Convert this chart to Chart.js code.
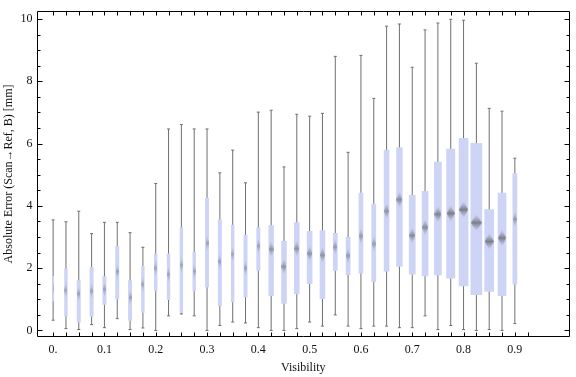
<!DOCTYPE html>
<html><head><meta charset="utf-8">
<script src="https://cdn.jsdelivr.net/npm/chart.js@4/dist/chart.umd.min.js"></script>
<style>html,body{margin:0;padding:0;background:#fff}#wrap{width:576px;height:377px;position:relative}</style>
</head><body><div id="wrap"><canvas id="c" width="576" height="377"></canvas></div>
<script>
// ---- data ----
const visibility = [0.000,0.025,0.050,0.075,0.100,0.125,0.150,0.175,0.200,0.225,0.250,0.275,0.300,0.325,0.350,0.375,0.400,0.425,0.450,0.475,0.500,0.525,0.550,0.575,0.600,0.625,0.650,0.675,0.700,0.725,0.750,0.775,0.800,0.825,0.850,0.875,0.900];
const whiskerLow  = [0.33,0.06,0.03,0.19,0.09,0.38,0.03,0.08,0.00,0.47,0.53,0.47,0.00,0.16,0.27,0.24,0.09,0.00,0.00,0.06,0.27,0.14,0.50,0.14,0.06,0.14,0.14,0.09,0.09,0.47,0.03,0.16,0.03,0.00,0.03,0.00,0.22];
const quartile1   = [0.95,0.46,0.27,0.45,0.84,1.01,0.32,0.58,1.27,0.99,0.57,1.27,1.40,0.80,0.92,1.08,1.93,1.12,0.87,1.18,1.50,1.02,1.93,1.79,1.84,1.56,1.90,2.06,1.81,1.75,1.78,1.68,1.43,1.15,1.25,1.12,1.49];
const medianVal   = [1.35,1.29,1.18,1.27,1.32,1.89,1.06,1.48,2.00,1.80,2.10,1.90,2.80,2.21,2.45,2.00,2.71,2.61,2.05,2.63,2.47,2.42,2.68,2.40,3.03,2.78,3.83,4.20,3.05,3.31,3.73,3.76,3.88,3.46,2.86,2.97,3.57];
const quartile3   = [1.74,1.98,1.60,2.03,1.73,2.70,1.60,2.06,2.46,2.46,3.30,2.52,4.25,3.55,3.38,3.06,3.30,3.37,2.86,3.46,3.18,3.21,3.12,2.99,4.41,4.06,5.79,5.87,4.34,4.47,5.41,5.82,6.17,6.01,3.88,4.41,5.04];
const whiskerHigh = [3.55,3.49,3.83,3.11,3.47,3.47,3.14,2.67,4.72,6.47,6.61,6.47,6.47,5.06,5.79,4.74,7.01,7.07,5.25,6.94,6.88,6.97,8.80,5.72,8.83,7.45,9.77,9.84,8.45,9.65,9.87,9.99,9.96,8.58,7.13,7.04,5.53];
// relative sample weight of each group (sets the box width)
const relWeight   = [0.10,0.25,0.30,0.30,0.30,0.30,0.30,0.25,0.25,0.25,0.25,0.25,0.30,0.30,0.25,0.30,0.30,0.43,0.45,0.45,0.45,0.45,0.37,0.37,0.37,0.37,0.45,0.52,0.55,0.55,0.64,0.75,0.82,1.00,0.82,0.73,0.37];

const xTickValues = [0,0.1,0.2,0.3,0.4,0.5,0.6,0.7,0.8,0.9];
const xTickLabels = ["0.","0.1","0.2","0.3","0.4","0.5","0.6","0.7","0.8","0.9"];
const xMarkValues = visibility.concat([0.925]);
const yTickValues = [0,2,4,6,8,10];
const yTickLabels = ["0","2","4","6","8","10"];
const yMinorValues = [0.5,1,1.5,2.5,3,3.5,4.5,5,5.5,6.5,7,7.5,8.5,9,9.5];

// ---- styles ----
const BOX_MAX_W = 11;
const boxColor = 'rgb(205,212,246)';
const whiskerColor = '#6f6f6f';
const serif = "'Liberation Serif','Times New Roman',serif";

function diamond(w, h) {
  const c = document.createElement('canvas');
  const cw = Math.max(1, Math.round(w));
  c.width = cw; c.height = h;
  const g = c.getContext('2d');
  const gr = g.createLinearGradient(0, 0, 0, h);
  const a = Math.min(0.85, 0.3 + w * 0.07);
  gr.addColorStop(0, 'rgba(140,142,160,0)');
  gr.addColorStop(0.5, 'rgba(110,110,118,' + a + ')');
  gr.addColorStop(1, 'rgba(140,142,160,0)');
  g.fillStyle = gr;
  g.beginPath();
  g.moveTo(cw / 2, 0); g.lineTo(cw, h / 2); g.lineTo(cw / 2, h); g.lineTo(0, h / 2); g.closePath();
  g.fill();
  return c;
}
const medianImgs = relWeight.map(r => diamond(r * BOX_MAX_W, 17));

const datasets = [];
datasets.push({
  type: 'bar', label: 'whiskers', order: 5, grouped: false,
  data: visibility.map((v, i) => ({x: v, y: [whiskerLow[i], whiskerHigh[i]]})),
  backgroundColor: whiskerColor, barThickness: 1, borderWidth: 0, inflateAmount: 0
});
visibility.forEach((v, i) => {
  datasets.push({
    type: 'bar', label: 'box' + i, order: 4, grouped: false,
    data: [{x: v, y: [quartile1[i], quartile3[i]]}],
    backgroundColor: boxColor, barThickness: relWeight[i] * BOX_MAX_W, borderWidth: 0
  });
});
datasets.push({
  type: 'scatter', label: 'caps', order: 3,
  data: visibility.map((v, i) => ({x: v, y: whiskerLow[i]})).concat(visibility.map((v, i) => ({x: v, y: whiskerHigh[i]}))),
  pointStyle: 'line', radius: 1.5, borderColor: whiskerColor, borderWidth: 1, hoverRadius: 0
});
datasets.push({
  type: 'scatter', label: 'medians', order: 1,
  data: visibility.map((v, i) => ({x: v, y: medianVal[i]})),
  pointStyle: ctx => medianImgs[ctx.dataIndex], radius: 5, hoverRadius: 5
});

const framePlugin = {
  id: 'frameTicks',
  afterDatasetsDraw(chart) {
    const {ctx, chartArea: a, scales: {x, y}} = chart;
    ctx.save();
    ctx.strokeStyle = '#000';
    ctx.lineWidth = 1;
    const L = Math.round(a.left) + 0.5, R = Math.round(a.right) - 0.5, T = Math.round(a.top) + 0.5, B = Math.round(a.bottom) - 0.5;
    ctx.beginPath();
    ctx.rect(L, T, R - L, B - T);
    xMarkValues.forEach(v => {
      const px = Math.round(x.getPixelForValue(v)) + 0.5;
      ctx.moveTo(px, B); ctx.lineTo(px, B - 4);
      ctx.moveTo(px, T); ctx.lineTo(px, T + 4);
    });
    yTickValues.forEach(v => {
      const py = Math.round(y.getPixelForValue(v)) + 0.5;
      ctx.moveTo(L, py); ctx.lineTo(L + 5, py);
      ctx.moveTo(R, py); ctx.lineTo(R - 5, py);
    });
    yMinorValues.forEach(v => {
      const py = Math.round(y.getPixelForValue(v)) + 0.5;
      ctx.moveTo(L, py); ctx.lineTo(L + 3, py);
      ctx.moveTo(R, py); ctx.lineTo(R - 3, py);
    });
    ctx.stroke();
    ctx.restore();
  }
};

new Chart(document.getElementById('c'), {
  type: 'bar',
  data: {datasets},
  options: {
    responsive: false, animation: false, devicePixelRatio: 1,
    layout: {padding: {top: 4, right: 1, left: 0, bottom: 0}},
    plugins: {legend: {display: false}, tooltip: {enabled: false}},
    scales: {
      x: {
        type: 'linear', min: -0.0324, max: 1.0075, offset: false,
        grid: {display: false, drawTicks: false}, border: {display: false},
        afterBuildTicks: s => { s.ticks = xTickValues.map(v => ({value: v})); },
        afterFit: s => { s.height = 40.3; },
        ticks: {autoSkip: false, maxRotation: 0, padding: 6, color: '#111',
          font: {family: serif, size: 12}, callback: (v, i) => xTickLabels[i]},
        title: {display: true, text: 'Visibility', color: '#111', font: {family: serif, size: 12}, padding: {top: 0, bottom: 2}}
      },
      y: {
        type: 'linear', min: -0.2, max: 10.25,
        grid: {display: false, drawTicks: false}, border: {display: false},
        afterBuildTicks: s => { s.ticks = yTickValues.map(v => ({value: v})); },
        afterFit: s => { s.width = 36.5; },
        ticks: {autoSkip: false, padding: 4, color: '#111',
          font: {family: serif, size: 12}, callback: (v, i) => yTickLabels[i]},
        title: {display: true, text: 'Absolute Error (Scan\u2192Ref, B) [mm]', color: '#111', font: {family: serif, size: 12}, padding: {top: 2, bottom: 0}}
      }
    }
  },
  plugins: [framePlugin]
});
</script>
</body></html>
